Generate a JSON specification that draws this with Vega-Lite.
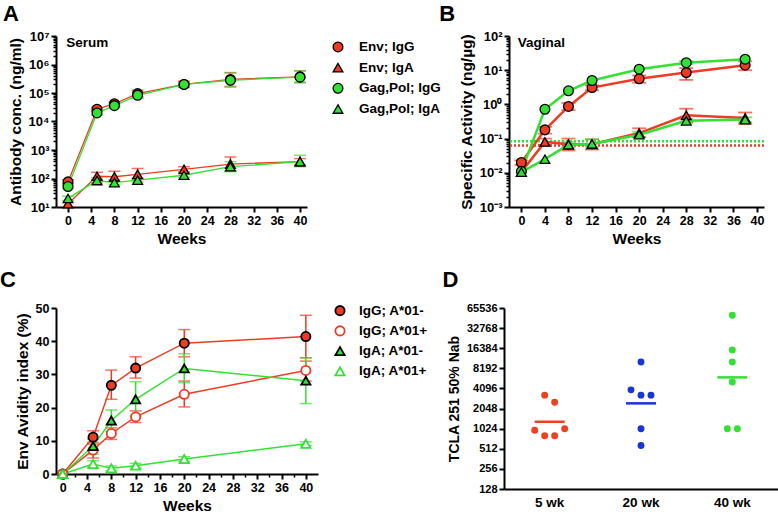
{
  "$schema": "https://vega.github.io/schema/vega-lite/v6.json",
  "padding": {"left": 0, "top": 3, "right": 0, "bottom": 0},
  "datasets": {
    "serum": [
      {"series": "Env; IgG", "week": 0, "value": 76, "lo": 65, "hi": 90},
      {"series": "Env; IgG", "week": 5, "value": 27000, "lo": 23000, "hi": 31000},
      {"series": "Env; IgG", "week": 8, "value": 42000, "lo": 36000, "hi": 48000},
      {"series": "Env; IgG", "week": 12, "value": 95000, "lo": 72000, "hi": 125000},
      {"series": "Env; IgG", "week": 20, "value": 200000, "lo": 155000, "hi": 260000},
      {"series": "Env; IgG", "week": 28, "value": 300000, "lo": 170000, "hi": 520000},
      {"series": "Env; IgG", "week": 40, "value": 370000, "lo": 230000, "hi": 600000},
      {"series": "Env; IgA", "week": 0, "value": 13, "lo": null, "hi": null},
      {"series": "Env; IgA", "week": 5, "value": 120, "lo": 90, "hi": 165},
      {"series": "Env; IgA", "week": 8, "value": 115, "lo": 80, "hi": 180},
      {"series": "Env; IgA", "week": 12, "value": 140, "lo": 95, "hi": 225},
      {"series": "Env; IgA", "week": 20, "value": 210, "lo": 170, "hi": 260},
      {"series": "Env; IgA", "week": 28, "value": 320, "lo": 180, "hi": 570},
      {"series": "Env; IgA", "week": 40, "value": 390, "lo": 300, "hi": 500},
      {"series": "Gag,Pol; IgG", "week": 0, "value": 52, "lo": 45, "hi": 60},
      {"series": "Gag,Pol; IgG", "week": 5, "value": 20000, "lo": 17000, "hi": 23000},
      {"series": "Gag,Pol; IgG", "week": 8, "value": 36000, "lo": 31000, "hi": 41000},
      {"series": "Gag,Pol; IgG", "week": 12, "value": 83000, "lo": 65000, "hi": 105000},
      {"series": "Gag,Pol; IgG", "week": 20, "value": 200000, "lo": 165000, "hi": 245000},
      {"series": "Gag,Pol; IgG", "week": 28, "value": 280000, "lo": 160000, "hi": 500000},
      {"series": "Gag,Pol; IgG", "week": 40, "value": 360000, "lo": 240000, "hi": 600000},
      {"series": "Gag,Pol; IgA", "week": 0, "value": 20, "lo": 17, "hi": 24},
      {"series": "Gag,Pol; IgA", "week": 5, "value": 85, "lo": 70, "hi": 105},
      {"series": "Gag,Pol; IgA", "week": 8, "value": 72, "lo": 60, "hi": 90},
      {"series": "Gag,Pol; IgA", "week": 12, "value": 88, "lo": 75, "hi": 105},
      {"series": "Gag,Pol; IgA", "week": 20, "value": 130, "lo": 110, "hi": 160},
      {"series": "Gag,Pol; IgA", "week": 28, "value": 260, "lo": 175, "hi": 390},
      {"series": "Gag,Pol; IgA", "week": 40, "value": 390, "lo": 260, "hi": 650}
    ],
    "vaginal": [
      {"series": "Env; IgG", "week": 0, "value": 0.02, "lo": 0.017, "hi": 0.023},
      {"series": "Env; IgG", "week": 4, "value": 0.18, "lo": 0.14, "hi": 0.22},
      {"series": "Env; IgG", "week": 8, "value": 0.87, "lo": 0.68, "hi": 1.1},
      {"series": "Env; IgG", "week": 12, "value": 3.1, "lo": 2.6, "hi": 3.6},
      {"series": "Env; IgG", "week": 20, "value": 5.6, "lo": 4.3, "hi": 7},
      {"series": "Env; IgG", "week": 28, "value": 8.5, "lo": 5.2, "hi": 11.5},
      {"series": "Env; IgG", "week": 38, "value": 14, "lo": 10, "hi": 18},
      {"series": "Env; IgA", "week": 0, "value": 0.0105, "lo": null, "hi": null},
      {"series": "Env; IgA", "week": 4, "value": 0.08, "lo": 0.065, "hi": 0.1},
      {"series": "Env; IgA", "week": 8, "value": 0.068, "lo": 0.045, "hi": 0.1},
      {"series": "Env; IgA", "week": 12, "value": 0.068, "lo": 0.048, "hi": 0.095},
      {"series": "Env; IgA", "week": 20, "value": 0.145, "lo": 0.11, "hi": 0.2},
      {"series": "Env; IgA", "week": 28, "value": 0.48, "lo": 0.3, "hi": 0.75},
      {"series": "Env; IgA", "week": 38, "value": 0.4, "lo": 0.27, "hi": 0.58},
      {"series": "Gag,Pol; IgG", "week": 0, "value": 0.011, "lo": null, "hi": null},
      {"series": "Gag,Pol; IgG", "week": 4, "value": 0.72, "lo": null, "hi": null},
      {"series": "Gag,Pol; IgG", "week": 8, "value": 2.5, "lo": null, "hi": null},
      {"series": "Gag,Pol; IgG", "week": 12, "value": 5, "lo": null, "hi": null},
      {"series": "Gag,Pol; IgG", "week": 20, "value": 10.7, "lo": null, "hi": null},
      {"series": "Gag,Pol; IgG", "week": 28, "value": 16.6, "lo": 15, "hi": 18.5},
      {"series": "Gag,Pol; IgG", "week": 38, "value": 21, "lo": null, "hi": null},
      {"series": "Gag,Pol; IgA", "week": 0, "value": 0.0105, "lo": null, "hi": null},
      {"series": "Gag,Pol; IgA", "week": 4, "value": 0.025, "lo": null, "hi": null},
      {"series": "Gag,Pol; IgA", "week": 8, "value": 0.066, "lo": 0.055, "hi": 0.08},
      {"series": "Gag,Pol; IgA", "week": 12, "value": 0.07, "lo": 0.058, "hi": 0.095},
      {"series": "Gag,Pol; IgA", "week": 20, "value": 0.13, "lo": 0.11, "hi": 0.16},
      {"series": "Gag,Pol; IgA", "week": 28, "value": 0.33, "lo": 0.29, "hi": 0.38},
      {"series": "Gag,Pol; IgA", "week": 38, "value": 0.36, "lo": 0.3, "hi": 0.42}
    ],
    "limits": [
      {"antigen": "Env", "limit": 0.063},
      {"antigen": "Gag,Pol", "limit": 0.083}
    ],
    "avidity": [
      {"series": "IgG; A*01-", "week": 0, "value": 0, "lo": null, "hi": null},
      {"series": "IgG; A*01-", "week": 5, "value": 11.1, "lo": 9, "hi": 13},
      {"series": "IgG; A*01-", "week": 8, "value": 26.7, "lo": 22.5, "hi": 31.3},
      {"series": "IgG; A*01-", "week": 12, "value": 31.9, "lo": 28.9, "hi": 35.3},
      {"series": "IgG; A*01-", "week": 20, "value": 39.4, "lo": 35.3, "hi": 43.5},
      {"series": "IgG; A*01-", "week": 40, "value": 41.4, "lo": 35, "hi": 47.8},
      {"series": "IgG; A*01+", "week": 0, "value": 0, "lo": null, "hi": null},
      {"series": "IgG; A*01+", "week": 5, "value": 7.2, "lo": 4.8, "hi": 9.5},
      {"series": "IgG; A*01+", "week": 8, "value": 12.2, "lo": 10.4, "hi": 13.9},
      {"series": "IgG; A*01+", "week": 12, "value": 17.2, "lo": 15.5, "hi": 19},
      {"series": "IgG; A*01+", "week": 20, "value": 24, "lo": 20.2, "hi": 28},
      {"series": "IgG; A*01+", "week": 40, "value": 31.2, "lo": 28, "hi": 34},
      {"series": "IgA; A*01-", "week": 0, "value": 0, "lo": null, "hi": null},
      {"series": "IgA; A*01-", "week": 5, "value": 8.4, "lo": 6, "hi": 10.5},
      {"series": "IgA; A*01-", "week": 8, "value": 16.1, "lo": 12.9, "hi": 19.3},
      {"series": "IgA; A*01-", "week": 12, "value": 22.5, "lo": 17.5, "hi": 27.8},
      {"series": "IgA; A*01-", "week": 20, "value": 31.8, "lo": 27.5, "hi": 36.2},
      {"series": "IgA; A*01-", "week": 40, "value": 28.1, "lo": 21.2, "hi": 35},
      {"series": "IgA; A*01+", "week": 0, "value": 0, "lo": null, "hi": null},
      {"series": "IgA; A*01+", "week": 5, "value": 3, "lo": 2, "hi": 4},
      {"series": "IgA; A*01+", "week": 8, "value": 1.7, "lo": 1, "hi": 2.4},
      {"series": "IgA; A*01+", "week": 12, "value": 2.5, "lo": 1.8, "hi": 3.2},
      {"series": "IgA; A*01+", "week": 20, "value": 4.5, "lo": 3.8, "hi": 5.2},
      {"series": "IgA; A*01+", "week": 40, "value": 9.1, "lo": 8.5, "hi": 9.7}
    ],
    "nab": [
      {"time": "5 wk", "titer": 3250, "lane": -0.5},
      {"time": "5 wk", "titer": 2540, "lane": 0.5},
      {"time": "5 wk", "titer": 970, "lane": -1.5},
      {"time": "5 wk", "titer": 800, "lane": -0.5},
      {"time": "5 wk", "titer": 800, "lane": 0.5},
      {"time": "5 wk", "titer": 1024, "lane": 1.5},
      {"time": "20 wk", "titer": 3900, "lane": -1},
      {"time": "20 wk", "titer": 3250, "lane": 0},
      {"time": "20 wk", "titer": 3250, "lane": 1},
      {"time": "20 wk", "titer": 10200, "lane": 0},
      {"time": "20 wk", "titer": 1024, "lane": 0},
      {"time": "20 wk", "titer": 573, "lane": 0},
      {"time": "40 wk", "titer": 51000, "lane": 0},
      {"time": "40 wk", "titer": 15460, "lane": 0},
      {"time": "40 wk", "titer": 10200, "lane": 0},
      {"time": "40 wk", "titer": 5120, "lane": 0},
      {"time": "40 wk", "titer": 1024, "lane": -0.5},
      {"time": "40 wk", "titer": 1024, "lane": 0.5}
    ],
    "gmt": [
      {"time": "5 wk", "gmt": 1305},
      {"time": "20 wk", "gmt": 2450},
      {"time": "40 wk", "gmt": 6000}
    ]
  },
  "spacing": 22,
  "resolve": {
    "scale": {"x": "independent", "y": "independent", "color": "independent", "fill": "independent", "stroke": "independent", "shape": "independent"},
    "axis": {"x": "independent", "y": "independent"}
  },
  "vconcat": [
    {
      "bounds": "flush",
      "spacing": 31,
      "resolve": {
        "scale": {"x": "independent", "y": "independent", "color": "independent", "fill": "independent", "stroke": "independent", "shape": "independent"},
        "axis": {"x": "independent", "y": "independent"}
      },
      "hconcat": [
        {
          "width": 251,
          "height": 171,
          "title": {"text": "A", "dx": -5},
          "data": {"name": "serum"},
          "resolve": {"axis": {"y": "independent"}},
          "layer": [
            {
              "layer": [
                {
                  "transform": [{"filter": "datum.lo != null"}],
                  "mark": {"type": "errorbar", "thickness": 1.5, "ticks": {"size": 12, "thickness": 1.5}},
                  "encoding": {
                    "x": {"field": "week", "type": "quantitative", "title": "Weeks", "scale": {"domain": [-2.07, 41.2], "nice": false, "zero": false}},
                    "y": {"field": "lo", "type": "quantitative", "title": "Antibody conc. (ng/ml)", "scale": {"type": "log", "domain": [10, 10000000], "nice": false}},
                    "y2": {"field": "hi"},
                    "color": {"field": "series", "type": "nominal", "scale": {"domain": ["Env; IgG", "Env; IgA", "Gag,Pol; IgG", "Gag,Pol; IgA"], "range": ["#ee3b23", "#ee3b23", "#33e133", "#33e133"]}, "legend": null}
                  }
                },
                {
                  "mark": {"type": "line", "strokeWidth": 1.3},
                  "encoding": {
                    "x": {"field": "week", "type": "quantitative", "title": "Weeks", "scale": {"domain": [-2.07, 41.2], "nice": false, "zero": false}, "axis": {"values": [0, 4, 8, 12, 16, 20, 24, 28, 32, 36, 40], "tickCount": 100, "labelOverlap": false, "format": "d"}},
                    "y": {"field": "value", "type": "quantitative", "title": "Antibody conc. (ng/ml)", "scale": {"type": "log", "domain": [10, 10000000], "nice": false}, "axis": {"values": [10, 100, 1000, 10000, 100000, 1000000, 10000000], "tickCount": 100, "labelOverlap": false, "labelExpr": "'10' + ['⁰','¹','²','³','⁴','⁵','⁶','⁷'][round(log(datum.value)/LN10)]", "labelFontSize": 13}},
                    "color": {"field": "series", "type": "nominal", "scale": {"domain": ["Env; IgG", "Env; IgA", "Gag,Pol; IgG", "Gag,Pol; IgA"], "range": ["#ee3b23", "#ee3b23", "#33e133", "#33e133"]}, "legend": null}
                  }
                },
                {
                  "mark": {"type": "point", "filled": true, "size": 95, "opacity": 1, "strokeWidth": 1.3, "stroke": "black"},
                  "encoding": {
                    "x": {"field": "week", "type": "quantitative", "title": "Weeks", "scale": {"domain": [-2.07, 41.2], "nice": false, "zero": false}},
                    "y": {"field": "value", "type": "quantitative", "title": "Antibody conc. (ng/ml)", "scale": {"type": "log", "domain": [10, 10000000], "nice": false}},
                    "shape": {"field": "series", "type": "nominal", "scale": {"domain": ["Env; IgG", "Env; IgA", "Gag,Pol; IgG", "Gag,Pol; IgA"], "range": ["circle", "triangle-up", "circle", "triangle-up"]}, "legend": null},
                    "fill": {"field": "series", "type": "nominal", "scale": {"domain": ["Env; IgG", "Env; IgA", "Gag,Pol; IgG", "Gag,Pol; IgA"], "range": ["#ee3b23", "#ee3b23", "#33e133", "#33e133"]}, "legend": null}
                  }
                },
                {
                  "data": {"values": [{"label": "Serum"}]},
                  "mark": {"type": "text", "align": "left", "baseline": "middle", "fontSize": 13.5, "fontWeight": "bold", "color": "black"},
                  "encoding": {
                    "text": {"field": "label"},
                    "x": {"datum": -0.3, "type": "quantitative"},
                    "y": {"datum": 5600000, "type": "quantitative"}
                  }
                }
              ]
            },
            {
              "mark": {"type": "point", "opacity": 0},
              "encoding": {
                "y": {"field": "value", "type": "quantitative", "scale": {"type": "log", "domain": [10, 10000000], "nice": false}, "axis": {"orient": "left", "values": [20, 30, 40, 50, 60, 70, 80, 90, 200, 300, 400, 500, 600, 700, 800, 900, 2000, 3000, 4000, 5000, 6000, 7000, 8000, 9000, 20000, 30000, 40000, 50000, 60000, 70000, 80000, 90000, 200000, 300000, 400000, 500000, 600000, 700000, 800000, 900000, 2000000, 3000000, 4000000, 5000000, 6000000, 7000000, 8000000, 9000000], "tickCount": 1000, "labels": false, "domain": false, "tickSize": 3, "tickWidth": 1.5, "title": null}}
              }
            }
          ]
        },
        {
          "width": 140,
          "height": 84,
          "data": {"name": "serum"},
          "transform": [{"aggregate": [{"op": "count", "as": "n"}], "groupby": ["series"]}],
          "layer": [
            {
              "mark": {"type": "point", "filled": true, "size": 95, "opacity": 1, "strokeWidth": 1.3, "stroke": "black"},
              "encoding": {
                "x": {"datum": 0, "type": "quantitative", "scale": {"domain": [0, 10]}, "axis": null},
                "y": {"field": "series", "type": "nominal", "scale": {"type": "point", "domain": ["Env; IgG", "Env; IgA", "Gag,Pol; IgG", "Gag,Pol; IgA"], "padding": 0.53}, "axis": null},
                "shape": {"field": "series", "type": "nominal", "scale": {"domain": ["Env; IgG", "Env; IgA", "Gag,Pol; IgG", "Gag,Pol; IgA"], "range": ["circle", "triangle-up", "circle", "triangle-up"]}, "legend": null},
                "fill": {"field": "series", "type": "nominal", "scale": {"domain": ["Env; IgG", "Env; IgA", "Gag,Pol; IgG", "Gag,Pol; IgA"], "range": ["#ee3b23", "#ee3b23", "#33e133", "#33e133"]}, "legend": null}
              }
            },
            {
              "mark": {"type": "text", "align": "left", "baseline": "middle", "dx": 21, "fontSize": 13.5, "fontWeight": "bold", "color": "black"},
              "encoding": {
                "x": {"datum": 0, "type": "quantitative", "scale": {"domain": [0, 10]}, "axis": null},
                "y": {"field": "series", "type": "nominal", "scale": {"type": "point", "domain": ["Env; IgG", "Env; IgA", "Gag,Pol; IgG", "Gag,Pol; IgA"], "padding": 0.53}, "axis": null},
                "text": {"field": "series"}
              }
            }
          ]
        },
        {
          "width": 255,
          "height": 171,
          "title": {"text": "B", "dx": -20},
          "resolve": {"axis": {"y": "independent"}},
          "layer": [
            {
              "layer": [
                {
                  "data": {"name": "limits"},
                  "mark": {"type": "rule", "strokeDash": [2, 2], "strokeWidth": 2.5},
                  "encoding": {
                    "y": {"field": "limit", "type": "quantitative", "title": "Specific Activity (ng/µg)", "scale": {"type": "log", "domain": [0.001, 100], "nice": false}},
                    "stroke": {"field": "antigen", "type": "nominal", "scale": {"domain": ["Env", "Gag,Pol"], "range": ["#ee3b23", "#33e133"]}, "legend": null}
                  }
                },
                {
                  "data": {"name": "vaginal"},
                  "transform": [{"filter": "datum.lo != null"}],
                  "mark": {"type": "errorbar", "thickness": 1.8, "ticks": {"size": 14, "thickness": 1.8}},
                  "encoding": {
                    "x": {"field": "week", "type": "quantitative", "title": "Weeks", "scale": {"domain": [-2.1, 41.2], "nice": false, "zero": false}},
                    "y": {"field": "lo", "type": "quantitative", "title": "Specific Activity (ng/µg)", "scale": {"type": "log", "domain": [0.001, 100], "nice": false}},
                    "y2": {"field": "hi"},
                    "color": {"field": "series", "type": "nominal", "scale": {"domain": ["Env; IgG", "Env; IgA", "Gag,Pol; IgG", "Gag,Pol; IgA"], "range": ["#ee3b23", "#ee3b23", "#33e133", "#33e133"]}, "legend": null}
                  }
                },
                {
                  "data": {"name": "vaginal"},
                  "mark": {"type": "line", "strokeWidth": 2.5},
                  "encoding": {
                    "x": {"field": "week", "type": "quantitative", "title": "Weeks", "scale": {"domain": [-2.1, 41.2], "nice": false, "zero": false}, "axis": {"values": [0, 4, 8, 12, 16, 20, 24, 28, 32, 36, 40], "tickCount": 100, "labelOverlap": false, "format": "d"}},
                    "y": {"field": "value", "type": "quantitative", "title": "Specific Activity (ng/µg)", "scale": {"type": "log", "domain": [0.001, 100], "nice": false}, "axis": {"values": [0.001, 0.01, 0.1, 1, 10, 100], "tickCount": 100, "labelOverlap": false, "labelExpr": "'10' + (round(log(datum.value)/LN10) < 0 ? '⁻' : '') + ['⁰','¹','²','³'][abs(round(log(datum.value)/LN10))]", "labelFontSize": 13}},
                    "color": {"field": "series", "type": "nominal", "scale": {"domain": ["Env; IgG", "Env; IgA", "Gag,Pol; IgG", "Gag,Pol; IgA"], "range": ["#ee3b23", "#ee3b23", "#33e133", "#33e133"]}, "legend": null}
                  }
                },
                {
                  "data": {"name": "vaginal"},
                  "mark": {"type": "point", "filled": true, "size": 95, "opacity": 1, "strokeWidth": 1.3, "stroke": "black"},
                  "encoding": {
                    "x": {"field": "week", "type": "quantitative", "title": "Weeks", "scale": {"domain": [-2.1, 41.2], "nice": false, "zero": false}},
                    "y": {"field": "value", "type": "quantitative", "title": "Specific Activity (ng/µg)", "scale": {"type": "log", "domain": [0.001, 100], "nice": false}},
                    "shape": {"field": "series", "type": "nominal", "scale": {"domain": ["Env; IgG", "Env; IgA", "Gag,Pol; IgG", "Gag,Pol; IgA"], "range": ["circle", "triangle-up", "circle", "triangle-up"]}, "legend": null},
                    "fill": {"field": "series", "type": "nominal", "scale": {"domain": ["Env; IgG", "Env; IgA", "Gag,Pol; IgG", "Gag,Pol; IgA"], "range": ["#ee3b23", "#ee3b23", "#33e133", "#33e133"]}, "legend": null}
                  }
                },
                {
                  "data": {"values": [{"label": "Vaginal"}]},
                  "mark": {"type": "text", "align": "left", "baseline": "middle", "fontSize": 13.5, "fontWeight": "bold", "color": "black"},
                  "encoding": {
                    "text": {"field": "label"},
                    "x": {"datum": -0.6, "type": "quantitative"},
                    "y": {"datum": 63, "type": "quantitative"}
                  }
                }
              ]
            },
            {
              "data": {"name": "vaginal"},
              "mark": {"type": "point", "opacity": 0},
              "encoding": {
                "y": {"field": "value", "type": "quantitative", "scale": {"type": "log", "domain": [0.001, 100], "nice": false}, "axis": {"orient": "left", "values": [0.002, 0.003, 0.004, 0.005, 0.006, 0.007, 0.008, 0.009, 0.02, 0.03, 0.04, 0.05, 0.06, 0.07, 0.08, 0.09, 0.2, 0.3, 0.4, 0.5, 0.6, 0.7, 0.8, 0.9, 2, 3, 4, 5, 6, 7, 8, 9, 20, 30, 40, 50, 60, 70, 80, 90], "tickCount": 1000, "labels": false, "domain": false, "tickSize": 3, "tickWidth": 1.5, "title": null}}
              }
            }
          ]
        }
      ]
    },
    {
      "bounds": "flush",
      "spacing": 22,
      "resolve": {
        "scale": {"x": "independent", "y": "independent", "color": "independent", "fill": "independent", "stroke": "independent", "shape": "independent"},
        "axis": {"x": "independent", "y": "independent"}
      },
      "hconcat": [
        {
          "width": 262,
          "height": 166,
          "title": {"text": "C", "dx": -15, "offset": 10},
          "data": {"name": "avidity"},
          "resolve": {"axis": {"x": "independent"}},
          "layer": [
            {
              "layer": [
                {
                  "transform": [{"filter": "datum.lo != null"}],
                  "mark": {"type": "errorbar", "thickness": 1.5, "ticks": {"size": 12, "thickness": 1.5}},
                  "encoding": {
                    "x": {"field": "week", "type": "quantitative", "title": "Weeks", "scale": {"domain": [-1.1, 42], "nice": false, "zero": false}},
                    "y": {"field": "lo", "type": "quantitative", "title": "Env Avidity index (%)", "scale": {"domain": [0, 50], "nice": false}},
                    "y2": {"field": "hi"},
                    "color": {"field": "series", "type": "nominal", "scale": {"domain": ["IgG; A*01-", "IgG; A*01+", "IgA; A*01-", "IgA; A*01+"], "range": ["#ee3b23", "#ee3b23", "#33e133", "#33e133"]}, "legend": null}
                  }
                },
                {
                  "mark": {"type": "line", "strokeWidth": 1.5},
                  "encoding": {
                    "x": {"field": "week", "type": "quantitative", "title": "Weeks", "scale": {"domain": [-1.1, 42], "nice": false, "zero": false}, "axis": {"values": [0, 4, 8, 12, 16, 20, 24, 28, 32, 36, 40], "tickCount": 100, "labelOverlap": false, "format": "d"}},
                    "y": {"field": "value", "type": "quantitative", "title": "Env Avidity index (%)", "scale": {"domain": [0, 50], "nice": false}, "axis": {"values": [0, 10, 20, 30, 40, 50], "tickCount": 100, "labelOverlap": false, "format": "d"}},
                    "color": {"field": "series", "type": "nominal", "scale": {"domain": ["IgG; A*01-", "IgG; A*01+", "IgA; A*01-", "IgA; A*01+"], "range": ["#ee3b23", "#ee3b23", "#33e133", "#33e133"]}, "legend": null}
                  }
                },
                {
                  "mark": {"type": "point", "filled": true, "size": 85, "opacity": 1, "strokeWidth": 1.8},
                  "encoding": {
                    "x": {"field": "week", "type": "quantitative", "title": "Weeks", "scale": {"domain": [-1.1, 42], "nice": false, "zero": false}},
                    "y": {"field": "value", "type": "quantitative", "title": "Env Avidity index (%)", "scale": {"domain": [0, 50], "nice": false}},
                    "shape": {"field": "series", "type": "nominal", "scale": {"domain": ["IgG; A*01-", "IgG; A*01+", "IgA; A*01-", "IgA; A*01+"], "range": ["circle", "circle", "triangle-up", "triangle-up"]}, "legend": null},
                    "fill": {"field": "series", "type": "nominal", "scale": {"domain": ["IgG; A*01-", "IgG; A*01+", "IgA; A*01-", "IgA; A*01+"], "range": ["#ee3b23", "white", "#33e133", "white"]}, "legend": null},
                    "stroke": {"field": "series", "type": "nominal", "scale": {"domain": ["IgG; A*01-", "IgG; A*01+", "IgA; A*01-", "IgA; A*01+"], "range": ["black", "#ee3b23", "black", "#33e133"]}, "legend": null}
                  }
                }
              ]
            },
            {
              "mark": {"type": "point", "opacity": 0},
              "encoding": {
                "x": {"field": "week", "type": "quantitative", "scale": {"domain": [-1.1, 42], "nice": false, "zero": false}, "axis": {"orient": "bottom", "values": [2, 6, 10, 14, 18, 22, 26, 30, 34, 38], "tickCount": 1000, "labels": false, "domain": false, "tickSize": 3, "tickWidth": 1.5, "title": null}}
              }
            }
          ]
        },
        {
          "width": 142,
          "height": 66,
          "data": {"name": "avidity"},
          "transform": [{"aggregate": [{"op": "count", "as": "n"}], "groupby": ["series"]}],
          "layer": [
            {
              "mark": {"type": "point", "filled": true, "size": 85, "opacity": 1, "strokeWidth": 1.8},
              "encoding": {
                "x": {"datum": 0, "type": "quantitative", "scale": {"domain": [0, 10]}, "axis": null},
                "y": {"field": "series", "type": "nominal", "scale": {"type": "point", "domain": ["IgG; A*01-", "IgG; A*01+", "IgA; A*01-", "IgA; A*01+"], "padding": 0.13}, "axis": null},
                "shape": {"field": "series", "type": "nominal", "scale": {"domain": ["IgG; A*01-", "IgG; A*01+", "IgA; A*01-", "IgA; A*01+"], "range": ["circle", "circle", "triangle-up", "triangle-up"]}, "legend": null},
                "fill": {"field": "series", "type": "nominal", "scale": {"domain": ["IgG; A*01-", "IgG; A*01+", "IgA; A*01-", "IgA; A*01+"], "range": ["#ee3b23", "white", "#33e133", "white"]}, "legend": null},
                "stroke": {"field": "series", "type": "nominal", "scale": {"domain": ["IgG; A*01-", "IgG; A*01+", "IgA; A*01-", "IgA; A*01+"], "range": ["black", "#ee3b23", "black", "#33e133"]}, "legend": null}
              }
            },
            {
              "mark": {"type": "text", "align": "left", "baseline": "middle", "dx": 19, "fontSize": 13.5, "fontWeight": "bold", "color": "black"},
              "encoding": {
                "x": {"datum": 0, "type": "quantitative", "scale": {"domain": [0, 10]}, "axis": null},
                "y": {"field": "series", "type": "nominal", "scale": {"type": "point", "domain": ["IgG; A*01-", "IgG; A*01+", "IgA; A*01-", "IgA; A*01+"], "padding": 0.13}, "axis": null},
                "text": {"field": "series"}
              }
            }
          ]
        },
        {
          "width": 274,
          "height": 181,
          "title": {"text": "D", "dx": -5, "offset": 10},
          "layer": [
            {
              "data": {"name": "nab"},
              "mark": {"type": "circle", "size": 48, "opacity": 1},
              "encoding": {
                "x": {"field": "time", "type": "nominal", "scale": {"type": "band", "domain": ["5 wk", "20 wk", "40 wk"], "paddingInner": 0, "paddingOuter": 0}, "axis": {"title": null, "ticks": false, "labelAngle": 0, "labelFontSize": 13.5, "labelPadding": 6}},
                "xOffset": {"field": "lane", "type": "quantitative", "scale": {"domain": [-4.567, 4.567], "range": [0, 91.33], "nice": false, "zero": false}},
                "y": {"field": "titer", "type": "quantitative", "title": "TCLA 251 50% Nab", "scale": {"type": "log", "base": 2, "domain": [128, 65536], "nice": false}, "axis": {"values": [128, 256, 512, 1024, 2048, 4096, 8192, 16384, 32768, 65536], "tickCount": 100, "labelOverlap": false, "format": "d", "labelFontSize": 11, "titleFontSize": 14}},
                "color": {"field": "time", "type": "nominal", "scale": {"domain": ["5 wk", "20 wk", "40 wk"], "range": ["#f0401f", "#1636d6", "#33e133"]}, "legend": null}
              }
            },
            {
              "data": {"name": "gmt"},
              "mark": {"type": "tick", "thickness": 2.5, "size": 30, "orient": "horizontal", "opacity": 1},
              "encoding": {
                "x": {"field": "time", "type": "nominal", "scale": {"type": "band", "domain": ["5 wk", "20 wk", "40 wk"], "paddingInner": 0, "paddingOuter": 0}},
                "y": {"field": "gmt", "type": "quantitative", "title": "TCLA 251 50% Nab", "scale": {"type": "log", "base": 2, "domain": [128, 65536], "nice": false}},
                "color": {"field": "time", "type": "nominal", "scale": {"domain": ["5 wk", "20 wk", "40 wk"], "range": ["#f0401f", "#1636d6", "#33e133"]}, "legend": null}
              }
            }
          ]
        }
      ]
    }
  ],
  "config": {
    "font": "Liberation Sans",
    "view": {"stroke": null},
    "axis": {"domainColor": "black", "domainWidth": 2, "tickColor": "black", "tickWidth": 2, "tickSize": 5, "labelFont": "Liberation Sans", "labelFontWeight": "bold", "labelFontSize": 12.5, "labelColor": "black", "labelPadding": 2, "labelOverlap": false, "titleFont": "Liberation Sans", "titleFontWeight": "bold", "titleFontSize": 15.5, "titleColor": "black", "titlePadding": 5, "grid": false},
    "title": {"font": "Liberation Sans", "fontSize": 22, "fontWeight": "bold", "anchor": "start", "frame": "bounds", "color": "black"}
  }
}
